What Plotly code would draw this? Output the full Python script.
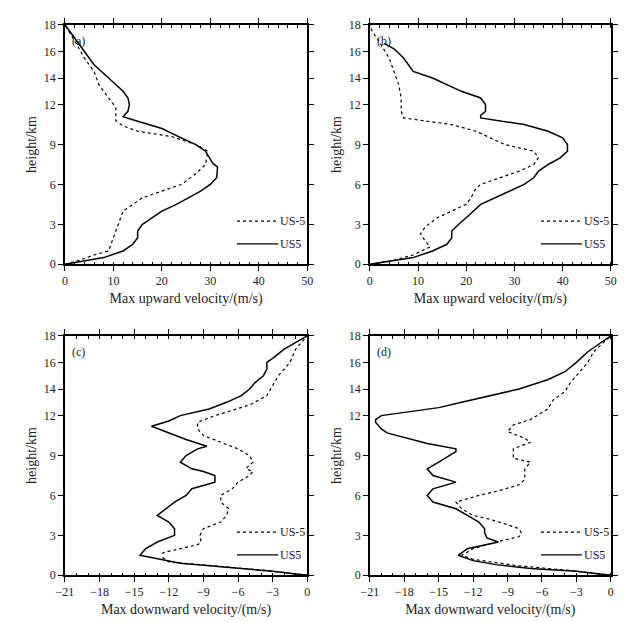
import plotly.graph_objects as go

# panel (a): max upward velocity
a_us_m5_x = [0, 3, 6, 9, 10, 11, 11.5, 12, 14, 16, 20, 24, 27, 29, 29.5, 27, 22, 15, 12, 10.5, 10.5, 10.5, 9, 7, 6, 4, 2, 0]
a_us_m5_y = [0, 0.3, 0.7, 1, 2, 3, 3.5, 4, 4.5, 5, 5.5, 6, 6.8, 7.5, 8.5, 9, 9.6, 10, 10.4, 10.8, 11.2, 11.8, 12.5, 13.5, 14.5, 15.5, 16.8, 18]
a_us5_x = [0, 8, 12, 14, 15, 15, 16, 18, 20, 23, 25.5, 28, 30, 31.3, 31.5, 30.5, 29, 27, 24, 20, 14.5, 12.5, 12, 13, 13.3, 13, 12, 9, 6, 3, 0]
a_us5_y = [0, 0.5, 1, 1.5, 2, 2.5, 3, 3.5, 4, 4.5, 5, 5.5, 6, 6.5, 7.3, 7.6, 8.5, 9, 9.5, 10.2, 10.8, 11, 11.1, 11.5, 12, 12.5, 13, 14, 15, 16.5, 18]

# panel (b)
b_us_m5_x = [0, 5, 9, 12.5, 11, 10.5, 11.5, 14, 17, 20, 21, 22, 23, 27, 31, 34, 35, 34, 28, 25, 22, 17, 11, 7, 6.5, 6.5, 6, 5.5, 4, 2, 0.5, 0]
b_us_m5_y = [0, 0.3, 0.7, 1.3, 2, 2.3, 2.8, 3.5, 4, 4.5, 5, 5.7, 6, 6.5, 7, 7.5, 8, 8.5, 9, 9.5, 10, 10.5, 10.8, 11, 11.5, 12.5, 13.5, 14, 15.5, 16.7, 17.5, 18]
b_us5_x = [0, 9, 13, 16, 17, 17, 19, 20, 23, 26, 29, 32, 34, 35, 37, 39.5, 41, 41, 40, 37, 32, 27, 23, 23, 24, 24, 23, 19, 13, 9, 7, 5, 3]
b_us5_y = [0, 0.5, 1, 1.5, 2, 2.5, 3.2, 3.5, 4.5, 5, 5.5, 6, 6.5, 7, 7.5, 8, 8.5, 9, 9.5, 10, 10.5, 10.8, 11, 11.2, 11.5, 12, 12.5, 13, 14, 14.5, 15.5, 16.2, 16.6]

# panel (c): max downward velocity
c_us_m5_x = [0, -4, -8, -12, -12.5, -12.5, -11, -9.5, -9.2, -9.3, -9, -7.5, -7, -6.8, -7.5, -7.5, -6.5, -6, -5, -4.7, -5.3, -5, -4.7, -5, -6, -7.5, -9, -9.5, -9.5, -8, -6, -5, -3.5, -2.5, -2, -1.5, -1, 0]
c_us_m5_y = [0, 0.4, 0.7, 1, 1.3, 1.7, 2, 2.3, 2.5, 3, 3.5, 4, 4.5, 5, 5.5, 6, 6.5, 7, 7.5, 7.8, 8, 8.3, 8.5, 9, 9.5, 10, 10.5, 11, 11.5, 12, 12.5, 12.8, 13.5, 15, 15.5, 16, 17, 18]
c_us5_x = [0, -3, -7, -11, -14.5, -14, -13, -11.5, -11.5, -12, -13, -12, -11.5, -10.5, -10, -8, -8, -9, -10, -11, -10.5, -9.5, -8.7, -10.5, -12, -13.5, -12, -11, -8.5, -7, -5.7, -5, -4.5, -3.8, -3.5, -3.5, -3, -2, 0]
c_us5_y = [0, 0.3, 0.6, 0.9, 1.5, 2, 2.5, 3, 3.5, 4, 4.5, 5.2, 5.5, 6, 6.5, 7, 7.5, 7.8, 8, 8.5, 9, 9.5, 9.7, 10.2, 10.7, 11.2, 11.6, 12, 12.5, 13, 13.5, 14, 14.5, 15, 15.5, 16, 16.3, 17, 18]

# panel (d)
d_us_m5_x = [0, -4, -8, -12, -13, -12, -10, -8, -7.8, -8, -9, -10.5, -12, -13, -13.5, -11.5, -10, -8, -7.5, -7.5, -7, -8.5, -8.5, -7, -7.5, -9, -8.5, -7, -5.5, -5, -4, -3.5, -2.5, -2, -1.5, 0]
d_us_m5_y = [0, 0.4, 0.7, 1.2, 1.5, 2, 2.5, 2.9, 3.2, 3.5, 3.8, 4.2, 4.5, 5, 5.5, 6, 6.3, 6.8, 7.2, 8, 8.5, 8.8, 9.5, 10, 10.3, 10.8, 11.3, 11.7, 12.5, 13.2, 13.8, 14.5, 15.5, 16, 16.8, 18]
d_us5_x = [0, -3, -7, -10, -12, -13.3, -12.5, -11.5, -9.8, -10.8, -11, -11, -11.5, -12.5, -13.5, -15.5, -16, -15.5, -13.5, -15.5, -16, -15, -13.5, -13.5, -16, -19.5, -20, -20.5, -20.5, -20, -15, -13, -10.5, -8, -5.5, -4, -3, -2, 0]
d_us5_y = [0, 0.3, 0.5, 0.8, 1.1, 1.5, 2, 2.2, 2.5, 2.8, 3.2, 3.5, 4, 4.5, 5, 5.5, 6, 6.5, 7, 7.5, 8, 8.5, 9.3, 9.5, 9.9, 10.7, 11, 11.5, 11.7, 12, 12.6, 13, 13.5, 14, 14.7, 15.3, 16, 16.8, 18]

height_ticks = [0, 3, 6, 9, 12, 14, 16, 18]

panels = [
    ("(a)", a_us_m5_x, a_us_m5_y, a_us5_x, a_us5_y, [0.091, 0.478], [0.588, 0.973], "Max upward velocity/(m/s)", [0, 50], 10, 2),
    ("(b)", b_us_m5_x, b_us_m5_y, b_us5_x, b_us5_y, [0.578, 0.963], [0.588, 0.973], "Max upward velocity/(m/s)", [0, 50], 10, 2),
    ("(c)", c_us_m5_x, c_us_m5_y, c_us5_x, c_us5_y, [0.091, 0.478], [0.088, 0.473], "Max downward velocity/(m/s)", [-21, 0], 3, 1),
    ("(d)", d_us_m5_x, d_us_m5_y, d_us5_x, d_us5_y, [0.578, 0.963], [0.088, 0.473], "Max downward velocity/(m/s)", [-21, 0], 3, 1),
]

font = dict(family="Liberation Serif", size=12, color="#222")
fig = go.Figure()
layout = dict(width=626, height=622, margin=dict(l=0, r=0, t=0, b=0),
              paper_bgcolor="white", plot_bgcolor="white", showlegend=False, font=font)
annotations = []
shapes = []

for i, (lab, x1, y1, x2, y2, xd, yd, xtitle, xr, dt, mdt) in enumerate(panels):
    n = "" if i == 0 else str(i + 1)
    fig.add_trace(go.Scatter(x=x1, y=y1, mode="lines", line=dict(color="black", width=1.2, dash="dot"),
                             xaxis="x" + n, yaxis="y" + n))
    fig.add_trace(go.Scatter(x=x2, y=y2, mode="lines", line=dict(color="black", width=1.5),
                             xaxis="x" + n, yaxis="y" + n))
    layout["xaxis" + n] = dict(domain=xd, range=xr, dtick=dt, tick0=xr[0], showgrid=False, zeroline=False,
                               showline=True, linecolor="black", linewidth=1.5, mirror="ticks", ticks="outside",
                               ticklen=5, tickcolor="black", automargin=False,
                               minor=dict(ticks="inside", ticklen=3, dtick=mdt, tickcolor="black"),
                               title=dict(text=xtitle, standoff=6), anchor="y" + n)
    layout["yaxis" + n] = dict(domain=yd, range=[0, 18], showgrid=False, zeroline=False,
                               showline=True, linecolor="black", linewidth=1.5, mirror="ticks", ticks="outside",
                               ticklen=5, tickcolor="black", tickvals=height_ticks, automargin=False,
                               title=dict(text="height/km", standoff=4), anchor="x" + n)
    xa = "x" + n + " domain"
    ya = "y" + n + " domain"
    annotations.append(dict(text=lab, x=0.02, y=0.97, xref=xa, yref=ya, showarrow=False,
                            xanchor="left", yanchor="top", font=font))
    for txt, dash, yy in [("US-5", "dot", 0.18), ("US5", "solid", 0.085)]:
        shapes.append(dict(type="line", xref=xa, yref=ya, x0=0.71, x1=0.88, y0=yy, y1=yy,
                           line=dict(color="black", width=1.3, dash=dash)))
        annotations.append(dict(text=txt, x=0.88, y=yy, xref=xa, yref=ya, showarrow=False,
                                xanchor="left", yanchor="middle", font=font))

layout["annotations"] = annotations
layout["shapes"] = shapes
fig.update_layout(**layout)
fig.write_html("out.html")
